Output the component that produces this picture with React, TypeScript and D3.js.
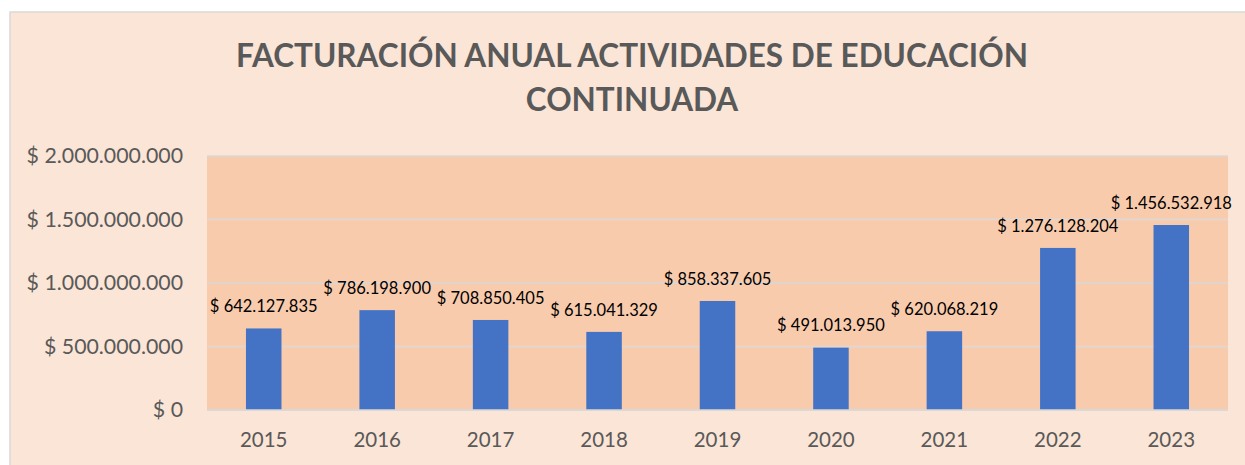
import React from "react";
import * as d3 from "d3";

const years = ["2015", "2016", "2017", "2018", "2019", "2020", "2021", "2022", "2023"];
const values = [642127835, 786198900, 708850405, 615041329, 858337605, 491013950, 620068219, 1276128204, 1456532918];
const yTicks = [0, 500000000, 1000000000, 1500000000, 2000000000];
const titleLines = ["FACTURACIÓN ANUAL ACTIVIDADES DE EDUCACIÓN", "CONTINUADA"];

const W = 1245;
const H = 465;
const plot = { left: 207, right: 1228, top: 156, bottom: 410 };
const FONT = "Lato, 'Open Sans', sans-serif";

const fmt = (v: number) => {
  if (v === 0) return "$ 0";
  return "$ " + d3.format(",")(v).replace(/,/g, ".");
};

export default function App() {
  const x = d3
    .scaleBand<string>()
    .domain(years)
    .range([plot.left, plot.right])
    .paddingInner(0.687)
    .paddingOuter(0.3435);
  const y = d3.scaleLinear().domain([0, 2000000000]).range([plot.bottom, plot.top]);

  return (
    <svg
      width={W}
      height={H}
      style={{ position: "absolute", left: 0, top: 0, display: "block" }}
      fontFamily={FONT}
    >
      <rect x={0} y={0} width={W} height={H} fill="#ffffff" />
      <rect x={10} y={12} width={W} height={H} fill="#fbe5d6" stroke="#d9d9d9" strokeWidth={1.5} />
      <rect
        x={plot.left}
        y={plot.top}
        width={plot.right - plot.left}
        height={plot.bottom - plot.top}
        fill="#f8cbad"
      />
      {yTicks.map((t) => (
        <line
          key={t}
          x1={plot.left}
          x2={plot.right}
          y1={y(t)}
          y2={y(t)}
          stroke="#d9d9d9"
          strokeWidth={1.5}
        />
      ))}
      {yTicks.map((t) => (
        <text
          key={"l" + t}
          x={183}
          y={y(t)}
          dy="0.35em"
          textAnchor="end"
          fontSize={21.3}
          fill="#595959"
        >
          {fmt(t)}
        </text>
      ))}
      {years.map((yr, i) => (
        <rect
          key={yr}
          x={x(yr)}
          y={y(values[i])}
          width={x.bandwidth()}
          height={y(0) - y(values[i])}
          fill="#4472c4"
        />
      ))}
      <line x1={plot.left} x2={plot.right} y1={y(0)} y2={y(0)} stroke="#d9d9d9" strokeWidth={1.5} />
      {years.map((yr, i) => (
        <text
          key={"d" + yr}
          x={(x(yr) as number) + x.bandwidth() / 2}
          y={y(values[i]) - 22}
          dy="0.35em"
          textAnchor="middle"
          fontSize={16.5}
          fill="#000000"
        >
          {fmt(values[i])}
        </text>
      ))}
      {years.map((yr) => (
        <text
          key={"x" + yr}
          x={(x(yr) as number) + x.bandwidth() / 2}
          y={440}
          dy="0.35em"
          textAnchor="middle"
          fontSize={20.5}
          fill="#595959"
        >
          {yr}
        </text>
      ))}
      {titleLines.map((line, i) => (
        <text
          key={"t" + i}
          x={632}
          y={67 + i * 44}
          textAnchor="middle"
          fontSize={31.5}
          fontWeight="bold"
          fill="#595959"
        >
          {line}
        </text>
      ))}
    </svg>
  );
}
